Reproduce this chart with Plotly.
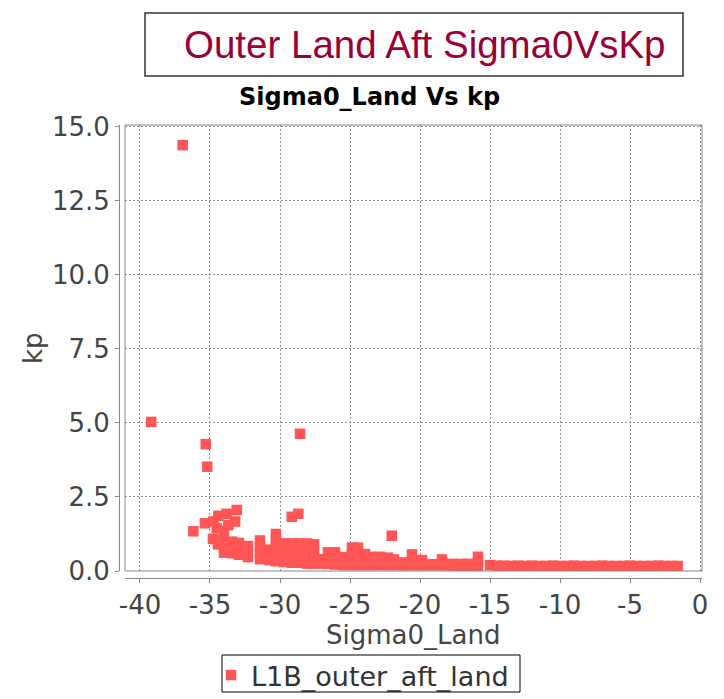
import plotly.graph_objects as go

# ---- data ----
outlier_sigma0 = [-36.95, -39.2, -35.3, -35.2, -28.57, -36.19, -22.02, -29.16, -28.69]
outlier_kp = [14.37, 5.03, 4.28, 3.52, 4.63, 1.34, 1.19, 1.83, 1.93]

blob_sigma0 = [-33.09, -33.81, -34.4, -35.36, -34.76, -33.21, -33.69, -34.52, -34.0]
blob_kp = [2.06, 1.93, 1.86, 1.61, 1.67, 1.67, 1.55, 1.44, 1.35]

cluster_sigma0 = [
    -34.79,
    -34.43, -34.43,
    -34.0, -34.0, -34.0,
    -33.43, -33.43, -33.43,
    -32.93, -32.93, -32.93,
    -32.29, -32.29, -32.29,
    -31.43, -31.43, -31.43, -31.43,
    -30.79, -30.79, -30.79,
    -30.29, -30.29, -30.29, -30.29, -30.29, -30.29,
    -29.71, -29.71, -29.71, -29.71,
    -29.14, -29.14, -29.14, -29.14,
    -28.57, -28.57, -28.57, -28.57,
    -28.07, -28.07, -28.07, -28.07,
    -27.57, -27.57, -27.57, -27.57,
    -27.0, -27.0,
    -26.57, -26.57, -26.57,
    -26.07, -26.07, -26.07,
    -25.5, -25.5, -25.5,
    -24.86, -24.86, -24.86, -24.86,
    -24.43, -24.43, -24.43, -24.43,
    -23.93, -23.93, -23.93,
    -23.5, -23.5, -23.5,
    -22.86, -22.86, -22.86,
    -22.29, -22.29, -22.29,
    -21.86, -21.86,
    -21.21, -21.21,
    -20.57, -20.57, -20.57,
    -19.86, -19.86,
    -19.14, -19.14,
    -18.43, -18.43,
    -17.71, -17.71,
    -17.0, -17.0,
    -16.57, -16.57,
    -15.86, -15.86, -15.86,
    -15.0,
]
cluster_kp = [
    1.08,
    1.05, 0.9,
    1.0, 0.8, 0.62,
    0.99, 0.8, 0.6,
    0.95, 0.75, 0.55,
    0.84, 0.65, 0.47,
    1.03, 0.82, 0.6, 0.4,
    0.72, 0.55, 0.37,
    1.25, 1.05, 0.85, 0.65, 0.45, 0.33,
    0.93, 0.72, 0.52, 0.3,
    0.93, 0.72, 0.52, 0.28,
    0.93, 0.72, 0.52, 0.28,
    0.93, 0.72, 0.5, 0.25,
    0.9, 0.7, 0.48, 0.25,
    0.4, 0.25,
    0.63, 0.42, 0.24,
    0.63, 0.42, 0.22,
    0.47, 0.3, 0.2,
    0.79, 0.6, 0.4, 0.2,
    0.79, 0.6, 0.4, 0.2,
    0.57, 0.38, 0.2,
    0.48, 0.3, 0.2,
    0.48, 0.3, 0.2,
    0.45, 0.3, 0.2,
    0.39, 0.2,
    0.29, 0.19,
    0.56, 0.38, 0.19,
    0.37, 0.19,
    0.23, 0.19,
    0.39, 0.19,
    0.24, 0.18,
    0.24, 0.18,
    0.24, 0.18,
    0.48, 0.3, 0.18,
    0.2,
]

band_sigma0 = [-14.5, -14.0, -13.5, -13.0, -12.5, -12.0, -11.5, -11.0, -10.5, -10.0,
               -9.5, -9.0, -8.5, -8.0, -7.5, -7.0, -6.5, -6.0, -5.5, -5.0,
               -4.5, -4.0, -3.5, -3.0, -2.5, -2.0, -1.6]
band_kp = [0.18, 0.18, 0.17, 0.18, 0.17, 0.18, 0.17, 0.17, 0.18, 0.17,
           0.17, 0.18, 0.17, 0.17, 0.17, 0.18, 0.17, 0.17, 0.17, 0.18,
           0.17, 0.17, 0.17, 0.18, 0.17, 0.17, 0.17]

x_ticks = [-40, -35, -30, -25, -20, -15, -10, -5, 0]
y_ticks = [0.0, 2.5, 5.0, 7.5, 10.0, 12.5, 15.0]

sigma0 = outlier_sigma0 + blob_sigma0 + cluster_sigma0 + band_sigma0
kp = outlier_kp + blob_kp + cluster_kp + band_kp

# ---- layout geometry (pixels) ----
W, H = 724, 699
ML, MR, MT, MB = 100, 22, 125, 99
PW = W - ML - MR
PH = H - MT - MB


def px_x(p):
    return (p - ML) / PW


def px_y(p):
    return (H - MB - p) / PH


tick_font = dict(family="DejaVu Sans", size=26, color="#444444")
axis_col = "#888888"

fig = go.Figure()
fig.add_trace(go.Scatter(
    x=sigma0, y=kp, mode="markers", name="L1B_outer_aft_land",
    marker=dict(symbol="square", size=10.5, color="#FF5555", line=dict(width=0)),
    showlegend=True,
))

fig.update_layout(
    width=W, height=H,
    margin=dict(l=ML, r=MR, t=MT, b=MB, autoexpand=False),
    paper_bgcolor="white", plot_bgcolor="white",
    xaxis=dict(
        domain=[px_x(125), 1.0], range=[-41.07, 0.14],
        anchor="free", position=px_y(578),
        tickmode="array", tickvals=x_ticks, ticktext=[str(v) for v in x_ticks],
        showline=True, linecolor=axis_col, linewidth=1,
        ticks="outside", ticklen=4, tickcolor=axis_col,
        showgrid=True, gridcolor="#909090", gridwidth=1, griddash="2px,2px",
        zeroline=False, tickfont=tick_font,
    ),
    yaxis=dict(
        domain=[px_y(571), 1.0], range=[0, 15.05],
        anchor="free", position=px_x(119),
        tickmode="array", tickvals=y_ticks, ticktext=["%.1f" % v for v in y_ticks],
        showline=True, linecolor=axis_col, linewidth=1,
        ticks="outside", ticklen=4, tickcolor=axis_col,
        showgrid=True, gridcolor="#909090", gridwidth=1, griddash="2px,2px",
        zeroline=False, tickfont=tick_font,
    ),
    legend=dict(
        x=px_x(211), y=px_y(651), xanchor="left", yanchor="top",
        orientation="h", borderwidth=0,
        font=dict(family="DejaVu Sans", size=27, color="#333333"),
        bgcolor="rgba(0,0,0,0)", itemwidth=30,
    ),
    shapes=[
        dict(type="rect", xref="x domain", yref="y domain", x0=0, x1=1, y0=0, y1=1,
             line=dict(color=axis_col, width=1), layer="above"),
        dict(type="rect", xref="paper", yref="paper",
             x0=px_x(145), x1=px_x(683), y0=px_y(76), y1=px_y(13),
             line=dict(color="#333333", width=1.5)),
        # legend frame
        dict(type="rect", xref="paper", yref="paper",
             x0=px_x(222), x1=px_x(520), y0=px_y(692), y1=px_y(655),
             line=dict(color="#000000", width=1)),
    ],
    annotations=[
        dict(text="Outer Land Aft Sigma0VsKp", xref="paper", yref="paper",
             x=px_x(425), y=px_y(45), xanchor="center", yanchor="middle",
             showarrow=False,
             font=dict(family="Liberation Sans", size=38.5, color="#990033")),
        dict(text="<b>Sigma0_Land Vs kp</b>", xref="paper", yref="paper",
             x=px_x(369), y=px_y(97), xanchor="center", yanchor="middle",
             showarrow=False,
             font=dict(family="DejaVu Sans", size=24, color="#000000")),
        dict(text="Sigma0_Land", xref="paper", yref="paper",
             x=px_x(413), y=px_y(635), xanchor="center", yanchor="middle",
             showarrow=False,
             font=dict(family="DejaVu Sans", size=26, color="#444444")),
        dict(text="kp", xref="paper", yref="paper", textangle=-90,
             x=px_x(33), y=px_y(348), xanchor="center", yanchor="middle",
             showarrow=False,
             font=dict(family="DejaVu Sans", size=26, color="#444444")),
    ],
)

fig.write_html(
    "out.html",
    config={"displayModeBar": False},
    post_script="document.body.style.margin='0';document.body.style.overflow='hidden';",
)
